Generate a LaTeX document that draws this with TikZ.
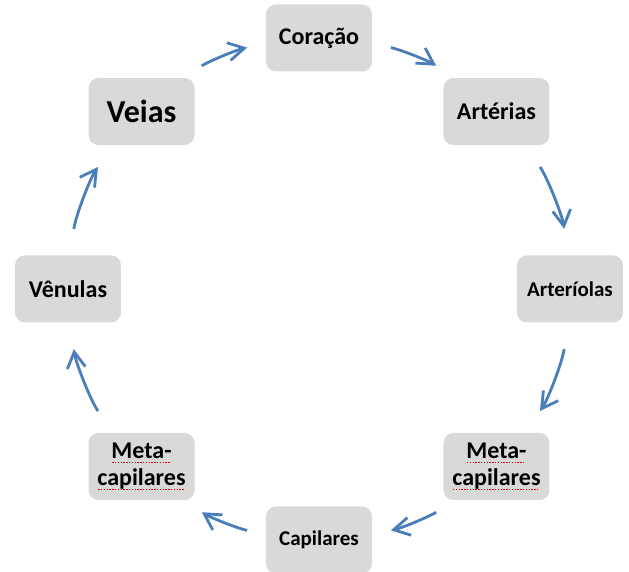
\documentclass[tikz,border=0pt]{standalone}
\usepackage{fontspec}
\setmainfont{Carlito}
\usetikzlibrary{arrows.meta}
\definecolor{boxGray}{RGB}{217,217,217}
\definecolor{flowBlue}{RGB}{74,126,187}
\tikzset{
  stage/.style={fill=boxGray, rounded corners=5pt, minimum width=53pt,
    minimum height=33.5pt, align=center, inner sep=2pt,
    font=\bfseries\fontsize{12}{13.5}\selectfont},
  flow/.style={flowBlue, line width=1.4pt, -{Straight Barb[length=8pt,width=9pt]}},
  arcA/.style={bend left=10.3, looseness=0.86},
  arcB/.style={bend left=13.7, looseness=0.86}
}
% red spell-check mark under a word
\newsavebox\spellbox
\newcommand\spellmark[1]{\sbox\spellbox{#1}\usebox\spellbox\llap{\color{red!85!black}\raisebox{-2pt}{\leaders\hbox to 1.4pt{\hss\rule{0.7pt}{0.5pt}\hss}\hskip\wd\spellbox}}}

\begin{document}
\begin{tikzpicture}[x=0.5pt,y=0.5pt]
\useasboundingbox (-319,-283) rectangle (310,289);
\coordinate (hub) at (0,0);
% the eight stages, clockwise from the top
\node[stage] (coracao) at (90:251) {Coração};
\node[stage] (arterias) at (45:251) {Artérias};
\node[stage, font=\bfseries\fontsize{10.5}{12}\selectfont] (arteriolas) at (0:251) {Arteríolas};
\node[stage] (metadir) at (-45:251) {\spellmark{Meta-}\\\spellmark{capilares}};
\node[stage, font=\bfseries\fontsize{10.5}{12}\selectfont] (capilares) at (-90:251) {Capilares};
\node[stage] (metaesq) at (-135:251) {\spellmark{Meta-}\\\spellmark{capilares}};
\node[stage] (venulas) at (180:251) {Vênulas};
\node[stage, font=\bfseries\fontsize{16}{18}\selectfont] (veias) at (135:251) {Veias};
% arrows round the circle
\draw[flow, shorten <=10.95pt, shorten >=9.45pt] (veias.39) to[arcA] (coracao.186);
\draw[flow, shorten <=9.45pt, shorten >=10.95pt] (coracao.-6) to[arcA] (arterias.141);
\draw[flow, shorten <=13.15pt, shorten >=13.2pt] (arterias.-50) to[arcB] (arteriolas.94);
\draw[flow, shorten <=13.2pt, shorten >=13.15pt] (arteriolas.-94) to[arcB] (metadir.50);
\draw[flow, shorten <=10.95pt, shorten >=9.45pt] (metadir.-141) to[arcA] (capilares.6);
\draw[flow, shorten <=9.45pt, shorten >=10.95pt] (capilares.174) to[arcA] (metaesq.-39);
\draw[flow, shorten <=13.15pt, shorten >=13.2pt] (metaesq.130) to[arcB] (venulas.-86);
\draw[flow, shorten <=13.2pt, shorten >=13.15pt] (venulas.86) to[arcB] (veias.-130);
\end{tikzpicture}
\end{document}
